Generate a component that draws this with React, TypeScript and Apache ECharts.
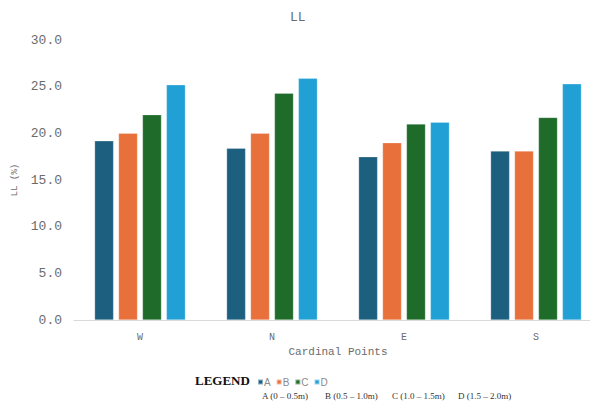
import React, { useEffect, useRef } from "react";
import * as echarts from "echarts";

const categories = ["W", "N", "E", "S"];
const seriesNames = ["A", "B", "C", "D"];
const seriesA = [19.2, 18.4, 17.5, 18.1];
const seriesB = [20.0, 20.0, 19.0, 18.1];
const seriesC = [22.0, 24.3, 21.0, 21.7];
const seriesD = [25.2, 25.9, 21.2, 25.3];
const colors = ["#1d5f7e", "#e8703a", "#1e6b2a", "#21a0d6"];
const rangeLabels = ["A (0 – 0.5m)", "B (0.5 – 1.0m)", "C (1.0 – 1.5m)", "D (1.5 – 2.0m)"];

export default function App() {
  const ref = useRef<HTMLDivElement>(null);
  useEffect(() => {
    if (!ref.current) return;
    const chart = echarts.init(ref.current, null, { renderer: "svg" });
    const data = [seriesA, seriesB, seriesC, seriesD];
    const mono = "'Liberation Mono', 'DejaVu Sans Mono', monospace";
    const rangeX = [262, 325, 392, 458];
    chart.setOption({
      animation: false,
      backgroundColor: "#fff",
      title: {
        text: "LL",
        left: 285,
        top: 6,
        textStyle: { fontFamily: mono, fontSize: 13, fontWeight: "normal", color: "#6b6b6b" },
      },
      grid: { left: 74, top: 40, width: 528, height: 280, containLabel: false },
      legend: {
        data: seriesNames,
        left: 252,
        top: 372,
        itemWidth: 5,
        itemHeight: 5,
        itemGap: 5,
        icon: "rect",
        textStyle: { fontSize: 10, color: "#8a8a8a", fontFamily: "'Liberation Sans', Arial, sans-serif", padding: [0, 0, 0, -4] },
      },
      xAxis: {
        type: "category",
        data: categories,
        axisLine: { lineStyle: { color: "#d9d9d9", width: 1 } },
        axisTick: { show: false },
        axisLabel: { fontFamily: mono, fontSize: 10, color: "#6b6b6b", margin: 12 },
        name: "Cardinal Points",
        nameLocation: "middle",
        nameGap: 26,
        nameTextStyle: { fontFamily: mono, fontSize: 11, color: "#6b6b6b" },
      },
      yAxis: {
        type: "value",
        min: 0,
        max: 30,
        interval: 5,
        splitLine: { show: false },
        axisLine: { show: false },
        axisTick: { show: false },
        axisLabel: {
          fontFamily: mono,
          fontSize: 13,
          color: "#6b6b6b",
          margin: 12,
          formatter: (v: number) => v.toFixed(1),
        },
        name: "LL (%)",
        nameLocation: "middle",
        nameRotate: 90,
        nameGap: 50,
        nameTextStyle: { fontFamily: mono, fontSize: 9, color: "#6b6b6b" },
      },
      series: seriesNames.map((n, i) => ({
        name: n,
        type: "bar",
        data: data[i],
        barWidth: 19,
        barGap: "26%",
        itemStyle: { color: colors[i], borderColor: "rgba(255,255,255,0.5)", borderWidth: 0.5 },
      })),
      graphic: [
        {
          type: "text",
          left: 195,
          top: 374,
          style: {
            text: "LEGEND",
            font: "bold 13px 'Liberation Serif', 'Times New Roman', serif",
            fill: "#111",
          },
        },
        ...rangeLabels.map((t, i) => ({
          type: "text",
          left: rangeX[i],
          top: 391,
          style: {
            text: t,
            font: "9px 'Liberation Serif', 'Times New Roman', serif",
            fill: "#333",
          },
        })),
      ],
    });
    return () => chart.dispose();
  }, []);
  return (
    <div style={{ width: 590, height: 405, position: "absolute", left: 0, top: 0, overflow: "hidden" }}>
      <div ref={ref} style={{ width: 620, height: 405 }} />
    </div>
  );
}
